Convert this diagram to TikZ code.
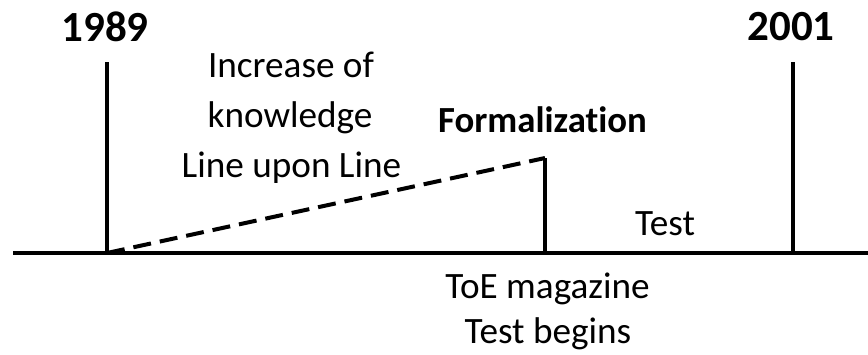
\documentclass[tikz,border=0pt]{standalone}
\usepackage{fontspec}
\setmainfont[Ligatures=CommonOff]{Carlito}
\begin{document}
\begin{tikzpicture}[x=1pt,y=-1pt,
  axis/.style={line width=4pt},
  tick/.style={line width=4pt},
  trend/.style={line width=4pt,dash pattern=on 18pt off 9pt},
  lbl/.style={font=\fontsize{37.2}{50}\selectfont,inner sep=0pt,anchor=base},
  yearlbl/.style={font=\fontsize{43}{50}\selectfont\bfseries,inner sep=0pt,anchor=base},
  boldlbl/.style={font=\fontsize{36.8}{45}\selectfont\bfseries,inner sep=0pt,anchor=base}]
\useasboundingbox (0,0) rectangle (868,354);
% coordinates
\coordinate (axL) at (13,253);
\coordinate (axR) at (868,253);
\coordinate (y89b) at (107,253);
\coordinate (y89t) at (107,62);
\coordinate (y01b) at (793,253);
\coordinate (y01t) at (793,62);
\coordinate (fb) at (545,253);
\coordinate (ft) at (545,158);
% lines
\draw[axis] (axL) -- (axR);
\draw[tick] (y89t) -- (y89b);
\draw[tick] (y01t) -- (y01b);
\draw[tick] (ft) -- (fb);
\draw[trend] (y89b) -- (ft);
% labels
\node[yearlbl] (l89) at (105,41) {1989};
\node[yearlbl] (l01) at (791,40) {2001};
\node[lbl] (inc1) at (291,77) {Increase of};
\node[lbl] (inc2) at (290,127) {knowledge};
\node[lbl] (inc3) at (291.5,177) {Line upon Line};
\node[boldlbl] (form) at (542.5,132) {Formalization};
\node[lbl] (test) at (665,235) {Test};
\node[lbl] (toe1) at (547.5,298) {ToE magazine};
\node[lbl] (toe2) at (548,343) {Test begins};
\end{tikzpicture}
\end{document}
